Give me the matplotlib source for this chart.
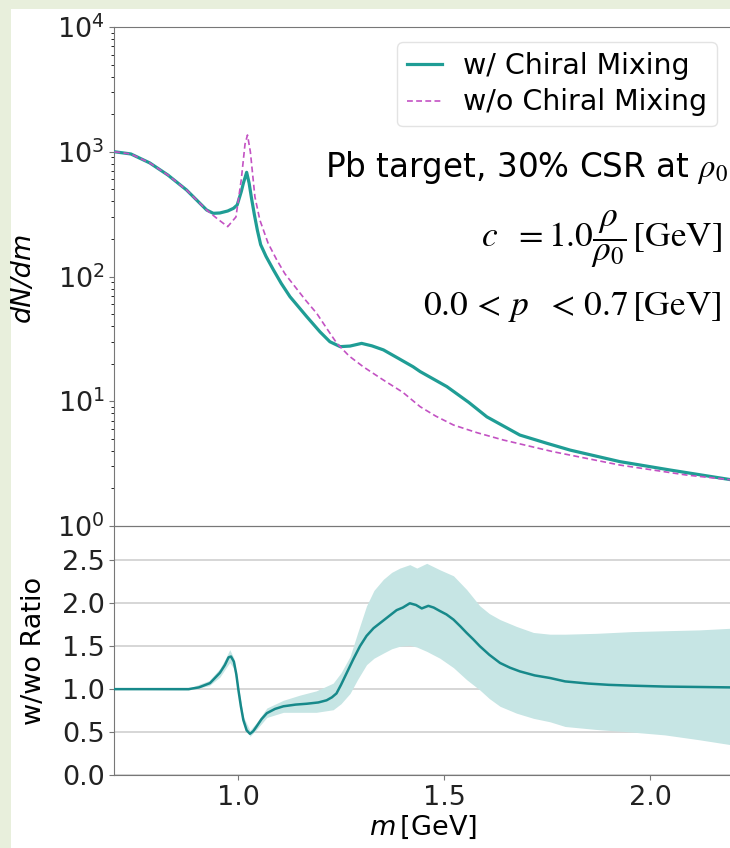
import matplotlib
matplotlib.use("Agg")
import matplotlib.pyplot as plt
from matplotlib.patches import Rectangle

# dN/dm with chiral mixing
m_w = [0.70, 0.74, 0.786, 0.83, 0.875, 0.924, 0.94, 0.956, 0.975, 0.989, 0.998,
       1.008, 1.013, 1.021, 1.027, 1.033, 1.040, 1.047, 1.055, 1.068, 1.086,
       1.105, 1.126, 1.167, 1.199, 1.223, 1.248, 1.272, 1.30, 1.325, 1.353,
       1.39, 1.425, 1.442, 1.507, 1.56, 1.604, 1.684, 1.75, 1.806, 1.927,
       2.049, 2.2]
dn_w = [1000, 960, 813, 650, 494, 341, 321, 323, 335, 352, 374,
        480, 559, 684, 560, 420, 310, 235, 180, 145, 113,
        88, 69, 47.6, 36, 30, 27.4, 27.7, 29.1, 27.8, 25.8,
        22.0, 18.9, 17.3, 13.1, 9.8, 7.5, 5.36, 4.6, 4.06, 3.28,
        2.81, 2.34]

# dN/dm without chiral mixing
m_wo = [0.70, 0.74, 0.786, 0.83, 0.875, 0.924, 0.95, 0.975, 0.995, 1.008,
        1.017, 1.023, 1.030, 1.041, 1.053, 1.073, 1.094, 1.114, 1.142, 1.165,
        1.191, 1.215, 1.24, 1.27, 1.304, 1.35, 1.40, 1.442, 1.48, 1.523,
        1.58, 1.644, 1.765, 1.927, 2.089, 2.2]
dn_wo = [1000, 960, 813, 650, 494, 341, 290, 251, 300, 600,
         1150, 1362, 1000, 436, 284, 185, 136, 105, 80, 64,
         50.7, 38.5, 29.1, 23.0, 18.9, 15.0, 11.8, 9.05, 7.6, 6.45,
         5.6, 4.89, 3.94, 3.08, 2.56, 2.34]

# ratio w/wo
m_r = [0.70, 0.88, 0.905, 0.932, 0.956, 0.968, 0.977, 0.983, 0.990, 0.996,
       1.001, 1.007, 1.013, 1.021, 1.029, 1.037, 1.045, 1.057, 1.07, 1.09,
       1.11, 1.14, 1.167, 1.195, 1.215, 1.228, 1.239, 1.25, 1.264, 1.28,
       1.296, 1.312, 1.329, 1.345, 1.361, 1.385, 1.40, 1.417, 1.432, 1.446,
       1.462, 1.475, 1.49, 1.506, 1.523, 1.54, 1.555, 1.571, 1.587, 1.61,
       1.636, 1.66, 1.684, 1.72, 1.757, 1.794, 1.85, 1.9, 1.96, 2.036,
       2.12, 2.2]
ratio = [1.0, 1.0, 1.02, 1.07, 1.19, 1.28, 1.37, 1.38, 1.32, 1.17,
         0.99, 0.80, 0.64, 0.52, 0.48, 0.51, 0.565, 0.65, 0.72, 0.77,
         0.80, 0.82, 0.83, 0.845, 0.87, 0.905, 0.95, 1.05, 1.19, 1.35,
         1.50, 1.62, 1.71, 1.77, 1.83, 1.92, 1.95, 2.0, 1.98, 1.94,
         1.97, 1.95, 1.91, 1.87, 1.81, 1.73, 1.655, 1.58, 1.50, 1.40,
         1.305, 1.25, 1.207, 1.16, 1.13, 1.09, 1.065, 1.05, 1.04, 1.03,
         1.025, 1.02]

# ratio uncertainty band
m_b = [0.70, 0.88, 0.93, 0.956, 0.97, 0.98, 0.99, 1.001, 1.013, 1.029,
       1.045, 1.07, 1.11, 1.15, 1.19, 1.231, 1.25, 1.272, 1.29, 1.312,
       1.33, 1.353, 1.373, 1.393, 1.417, 1.434, 1.458, 1.49, 1.523, 1.555,
       1.587, 1.61, 1.636, 1.676, 1.717, 1.757, 1.794, 1.87, 1.956, 2.036,
       2.12, 2.2]
band_lo = [1.0, 0.99, 1.04, 1.14, 1.24, 1.31, 1.24, 0.95, 0.60, 0.45,
           0.53, 0.67, 0.73, 0.73, 0.73, 0.76, 0.83, 0.95, 1.11, 1.285,
           1.36, 1.42, 1.47, 1.50, 1.51, 1.49, 1.44, 1.36, 1.25, 1.11,
           0.99, 0.89, 0.80, 0.72, 0.66, 0.62, 0.565, 0.53, 0.50, 0.467,
           0.41, 0.35]
band_hi = [1.0, 1.01, 1.10, 1.24, 1.36, 1.46, 1.36, 1.03, 0.68, 0.52,
           0.61, 0.78, 0.87, 0.93, 0.98, 1.07, 1.19, 1.38, 1.65, 1.97,
           2.15, 2.28, 2.36, 2.41, 2.45, 2.41, 2.465, 2.39, 2.32, 2.16,
           1.97, 1.88, 1.81, 1.73, 1.66, 1.64, 1.64, 1.65, 1.67, 1.68,
           1.69, 1.71]

teal = '#1f9d95'
teal_dark = '#17898a'
magenta = '#c352c3'
spine_c = '#777777'

plt.rcParams['font.family'] = 'DejaVu Sans'
plt.rcParams['mathtext.fontset'] = 'dejavusans'

fig = plt.figure(figsize=(7.3, 8.48), dpi=100)
fig.patch.set_facecolor('#e8efdc')
fig.patches.append(Rectangle((11 / 730, 0), 1, 1 - 9 / 848, transform=fig.transFigure,
                             facecolor='white', edgecolor='none', zorder=-10))

left = 114.4 / 730
width = 618 / 730
ax1 = fig.add_axes([left, 1 - 526 / 848, width, 499 / 848])
ax2 = fig.add_axes([left, 1 - 775 / 848, width, 249 / 848], sharex=ax1)

for ax in (ax1, ax2):
    ax.set_facecolor('none')
    for s in ax.spines.values():
        s.set_color(spine_c)
    ax.tick_params(colors=spine_c, labelcolor='#222222', labelsize=19.5)

ax1.plot(m_w, dn_w, color=teal, lw=2.3, label='w/ Chiral Mixing', zorder=3)
ax1.plot(m_wo, dn_wo, color=magenta, lw=1.2, ls=(0, (3.5, 2)), label='w/o Chiral Mixing', zorder=4)
ax1.set_yscale('log')
ax1.set_ylim(1, 1e4)
ax1.set_xlim(0.7, 2.2)
ax1.tick_params(axis='x', length=0, labelbottom=False)
ax1.set_ylabel('dN/dm', fontsize=19.5, fontstyle='italic', labelpad=15)

leg = ax1.legend(loc='upper right', bbox_to_anchor=(0.975, 0.97), borderaxespad=0,
                 fontsize=20.5, handlelength=1.2, handletextpad=0.75, borderpad=0.35,
                 labelspacing=0.3, frameon=True, fancybox=True)
leg.get_frame().set_edgecolor('#dddddd')

ax1.text(0.993, 0.699, r'Pb target, 30% CSR at $\rho_0$', transform=ax1.transAxes,
         ha='right', va='baseline', fontsize=23.5, family='DejaVu Sans',
         math_fontfamily='stix')
ax1.text(0.983, 0.575, r'$c\ \ =1.0\dfrac{\rho}{\rho_0}\,[\mathrm{GeV}]$', transform=ax1.transAxes,
         ha='right', va='center', fontsize=25.5, math_fontfamily='stix')
ax1.text(0.983, 0.423, r'$0.0\,<\,p\ \ <\,0.7\,[\mathrm{GeV}]$', transform=ax1.transAxes,
         ha='right', va='baseline', fontsize=25.5, math_fontfamily='stix')

ax2.fill_between(m_b, band_lo, band_hi, color='#c6e5e4', lw=0, zorder=1)
ax2.plot(m_r, ratio, color=teal_dark, lw=1.8, zorder=3)
ax2.set_ylim(0, 2.9)
ax2.set_yticks([0.0, 0.5, 1.0, 1.5, 2.0, 2.5])
ax2.set_xticks([1.0, 1.5, 2.0])
ax2.grid(axis='y', color='#d0d0d0', lw=1.2, zorder=0)
ax2.set_axisbelow(True)
ax2.set_ylabel('w/wo Ratio', fontsize=19.5, labelpad=11)
ax2.set_xlabel(r'$m\,$[GeV]', fontsize=19.5, labelpad=2)

plt.savefig('out.png', dpi=100, facecolor=fig.get_facecolor())
